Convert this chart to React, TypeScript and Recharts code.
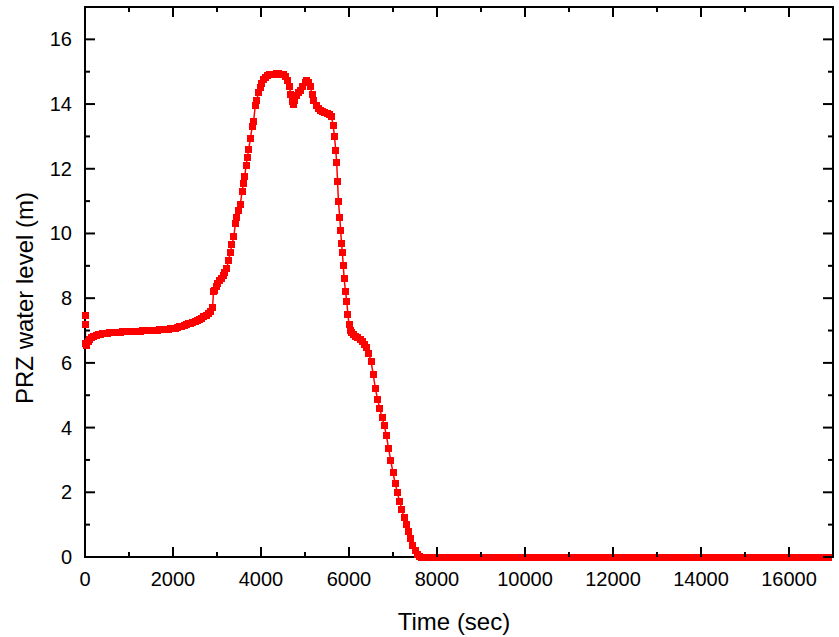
import React from 'react';
import { LineChart, Line, XAxis, YAxis } from 'recharts';

// Time (sec)
const times = [
  0, 5, 15, 40, 70, 100, 140, 200, 250, 300, 350, 400, 450, 500, 550, 600, 650, 700, 750, 800, 850, 900, 950, 1000,
  1050, 1100, 1150, 1200, 1250, 1300, 1350, 1400, 1450, 1500, 1550, 1600, 1650, 1700, 1750, 1800, 1850, 1900, 1950, 2000,
  2050, 2100, 2150, 2200, 2250, 2300, 2350, 2400, 2450, 2500, 2550, 2600, 2650, 2700, 2750, 2800, 2850, 2900, 2920,
  2940, 2980, 3020, 3060, 3100, 3140, 3180, 3220, 3260, 3300, 3340, 3380, 3420,
  3450, 3490, 3530, 3570, 3600, 3630, 3660, 3690, 3720, 3760, 3800, 3830, 3870,
  3900, 3940, 3980, 4020, 4060, 4100, 4150, 4200, 4250, 4300, 4350, 4400, 4450,
  4500, 4550, 4600, 4640, 4680, 4710, 4740, 4770, 4800, 4850, 4900, 4950, 5000,
  5040, 5080, 5120, 5160, 5200, 5250, 5300, 5350, 5400, 5450, 5500, 5550, 5600,
  5640, 5670, 5700, 5720, 5740, 5760, 5790, 5810, 5830, 5850, 5870, 5890, 5920,
  5950, 5975, 6000, 6030,
  6060, 6100, 6150, 6200, 6250, 6300, 6350, 6400, 6450, 6500, 6550, 6600, 6650,
  6700, 6750, 6800, 6850, 6900, 6950, 7000, 7050, 7100, 7150, 7200, 7250, 7300,
  7350, 7400, 7450, 7500, 7550, 7600, 7650,
  7700, 7800, 7900, 8000, 8100, 8200, 8300, 8400, 8500, 8600, 8700, 8800, 8900,
  9000, 9100, 9200, 9300, 9400, 9500, 9600, 9700, 9800, 9900, 10000, 10100,
  10200, 10300, 10400, 10500, 10600, 10700, 10800, 10900, 11000, 11100, 11200,
  11300, 11400, 11500, 11600, 11700, 11800, 11900, 12000, 12100, 12200, 12300,
  12400, 12500, 12600, 12700, 12800, 12900, 13000, 13100, 13200, 13300, 13400,
  13500, 13600, 13700, 13800, 13900, 14000, 14100, 14200, 14300, 14400, 14500,
  14600, 14700, 14800, 14900, 15000, 15100, 15200, 15300, 15400, 15500, 15600,
  15700, 15800, 15900, 16000, 16100, 16200, 16300, 16400, 16500, 16600, 16700,
  16800, 16900, 16990,
];

// PRZ water level (m)
const levels = [
  7.45, 7.2, 6.6, 6.55, 6.65, 6.72, 6.78, 6.82, 6.85, 6.87, 6.89, 6.9, 6.91, 6.92, 6.925, 6.93, 6.935, 6.94, 6.945, 6.95, 6.955, 6.96, 6.965, 6.97,
  6.97, 6.97, 6.975, 6.98, 6.985, 6.99, 6.995, 7.0, 7.0, 7.0, 7.005, 7.01, 7.015, 7.02, 7.025, 7.03, 7.035, 7.04, 7.05, 7.06,
  7.075, 7.09, 7.11, 7.13, 7.155, 7.18, 7.205, 7.23, 7.26, 7.29, 7.32, 7.35, 7.385, 7.42, 7.47, 7.53, 7.6, 7.72, 8.2,
  8.25, 8.35, 8.45, 8.55, 8.62, 8.7, 8.8, 8.92, 9.15, 9.4, 9.65, 9.9, 10.3,
  10.5, 10.7, 10.9, 11.3, 11.55, 11.75, 12.1, 12.35, 12.6, 12.95, 13.3, 13.45, 13.95,
  14.1, 14.35, 14.5, 14.65, 14.75, 14.82, 14.87, 14.9, 14.92, 14.92, 14.93, 14.93, 14.92,
  14.9, 14.85, 14.72, 14.55, 14.3, 14.08, 14.0, 14.1, 14.25, 14.35, 14.42, 14.55, 14.68,
  14.72, 14.68, 14.55, 14.3, 14.1, 13.95, 13.85, 13.8, 13.76, 13.73, 13.7, 13.68, 13.62,
  13.35, 13.0, 12.55, 12.2, 11.6, 11.0, 10.5, 10.1, 9.7, 9.4, 9.0, 8.6, 8.2,
  7.9, 7.5, 7.2, 7.0,
  6.93, 6.88, 6.83, 6.78, 6.72, 6.65, 6.57, 6.47, 6.3, 6.05, 5.65, 5.2, 4.88,
  4.58, 4.32, 4.08, 3.75, 3.35, 2.98, 2.6, 2.28, 1.98, 1.72, 1.47, 1.22, 1.0,
  0.78, 0.57, 0.37, 0.2, 0.08, 0.02, 0,
  0, 0, 0, 0, 0, 0, 0, 0, 0, 0, 0, 0, 0,
  0, 0, 0, 0, 0, 0, 0, 0, 0, 0, 0,
  0, 0, 0, 0, 0, 0, 0, 0, 0, 0, 0,
  0, 0, 0, 0, 0, 0, 0, 0, 0, 0, 0,
  0, 0, 0, 0, 0, 0, 0, 0, 0, 0, 0,
  0, 0, 0, 0, 0, 0, 0, 0, 0, 0, 0,
  0, 0, 0, 0, 0, 0, 0, 0, 0, 0, 0,
  0, 0, 0, 0, 0, 0, 0, 0, 0, 0, 0,
  0, 0, 0,
];

const xTicks = [0, 1000, 2000, 3000, 4000, 5000, 6000, 7000, 8000, 9000, 10000, 11000, 12000, 13000, 14000, 15000, 16000];
const xTickLabels = ['0', '', '2000', '', '4000', '', '6000', '', '8000', '', '10000', '', '12000', '', '14000', '', '16000'];
const yTicks = [0, 1, 2, 3, 4, 5, 6, 7, 8, 9, 10, 11, 12, 13, 14, 15, 16];
const yTickLabels = ['0', '', '2', '', '4', '', '6', '', '8', '', '10', '', '12', '', '14', '', '16'];

const data = times.map((t, i) => ({ t, level: levels[i] }));

const FONT = "'Liberation Sans', Arial, Helvetica, sans-serif";
const RED = '#ff0000';
const MAJOR = 10;
const MINOR = 5;
const SQ = 7;

function BottomTick(props: any) {
  const { x, y, index } = props;
  const label = xTickLabels[index];
  const len = label ? MAJOR : MINOR;
  return (
    <g>
      <line x1={x} y1={y} x2={x} y2={y - len} stroke="#000" strokeWidth={2} />
      {label ? (
        <text x={x} y={y + 29} textAnchor="middle" fontSize={20} fontFamily={FONT} fill="#000">
          {label}
        </text>
      ) : null}
    </g>
  );
}

function TopTick(props: any) {
  const { x, y, index } = props;
  const len = xTickLabels[index] ? MAJOR : MINOR;
  return <line x1={x} y1={y} x2={x} y2={y + len} stroke="#000" strokeWidth={2} />;
}

function LeftTick(props: any) {
  const { x, y, index } = props;
  const label = yTickLabels[index];
  const len = label ? MAJOR : MINOR;
  return (
    <g>
      <line x1={x} y1={y} x2={x + len} y2={y} stroke="#000" strokeWidth={2} />
      {label ? (
        <text x={x - 13} y={y + 7} textAnchor="end" fontSize={20} fontFamily={FONT} fill="#000">
          {label}
        </text>
      ) : null}
    </g>
  );
}

function RightTick(props: any) {
  const { x, y, index } = props;
  const len = yTickLabels[index] ? MAJOR : MINOR;
  return <line x1={x} y1={y} x2={x - len} y2={y} stroke="#000" strokeWidth={2} />;
}

function SquareDot(props: any) {
  const { cx, cy, index } = props;
  if (cx == null || cy == null) return <g key={index} />;
  return <rect key={index} x={cx - SQ / 2} y={cy - SQ / 2} width={SQ} height={SQ} fill={RED} shapeRendering="crispEdges" />;
}

function YTitle(props: any) {
  const vb = props.viewBox || { x: 0, y: 7, width: 85, height: 550 };
  const cx = vb.x + 24;
  const cy = vb.y + vb.height / 2 + 16;
  return (
    <text
      x={cx}
      y={cy}
      transform={`rotate(-90, ${cx}, ${cy})`}
      textAnchor="middle"
      dominantBaseline="central"
      fontSize={24}
      fontFamily={FONT}
      fill="#000"
    >
      PRZ water level (m)
    </text>
  );
}

function XTitle(props: any) {
  const vb = props.viewBox || { x: 85, y: 557, width: 748, height: 80 };
  const cx = vb.x + vb.width / 2 - 5;
  const cy = vb.y + 73;
  return (
    <text x={cx} y={cy} textAnchor="middle" fontSize={24} fontFamily={FONT} fill="#000">
      Time (sec)
    </text>
  );
}

const axisLine = { stroke: '#000', strokeWidth: 2, strokeLinecap: 'square' as const };

export default function App() {
  return (
    <div style={{ position: 'absolute', left: 0, top: 0, width: 839, height: 637, background: '#fff' }}>
      <LineChart width={839} height={637} data={data} margin={{ top: 0, right: 0, bottom: 0, left: 0 }}>
        <XAxis
          xAxisId="bottom"
          dataKey="t"
          type="number"
          domain={[0, 17000]}
          ticks={xTicks}
          interval={0}
          height={80}
          tickSize={0}
          tickMargin={0}
          tickLine={false}
          axisLine={axisLine}
          tick={<BottomTick />}
          label={XTitle}
        />
        <XAxis
          xAxisId="top"
          orientation="top"
          dataKey="t"
          type="number"
          domain={[0, 17000]}
          ticks={xTicks}
          interval={0}
          height={7}
          tickSize={0}
          tickMargin={0}
          tickLine={false}
          axisLine={axisLine}
          tick={<TopTick />}
        />
        <YAxis
          yAxisId="left"
          type="number"
          domain={[0, 17]}
          ticks={yTicks}
          interval={0}
          width={85}
          tickSize={0}
          tickMargin={0}
          tickLine={false}
          axisLine={axisLine}
          tick={<LeftTick />}
          label={YTitle}
        />
        <YAxis
          yAxisId="right"
          orientation="right"
          type="number"
          domain={[0, 17]}
          ticks={yTicks}
          interval={0}
          width={6}
          tickSize={0}
          tickMargin={0}
          tickLine={false}
          axisLine={axisLine}
          tick={<RightTick />}
        />
        <Line
          xAxisId="top"
          yAxisId="right"
          dataKey="level"
          stroke="none"
          dot={false}
          activeDot={false}
          isAnimationActive={false}
        />
        <Line
          xAxisId="bottom"
          yAxisId="left"
          dataKey="level"
          type="linear"
          stroke={RED}
          strokeWidth={1.5}
          dot={SquareDot}
          activeDot={false}
          isAnimationActive={false}
        />
      </LineChart>
    </div>
  );
}
